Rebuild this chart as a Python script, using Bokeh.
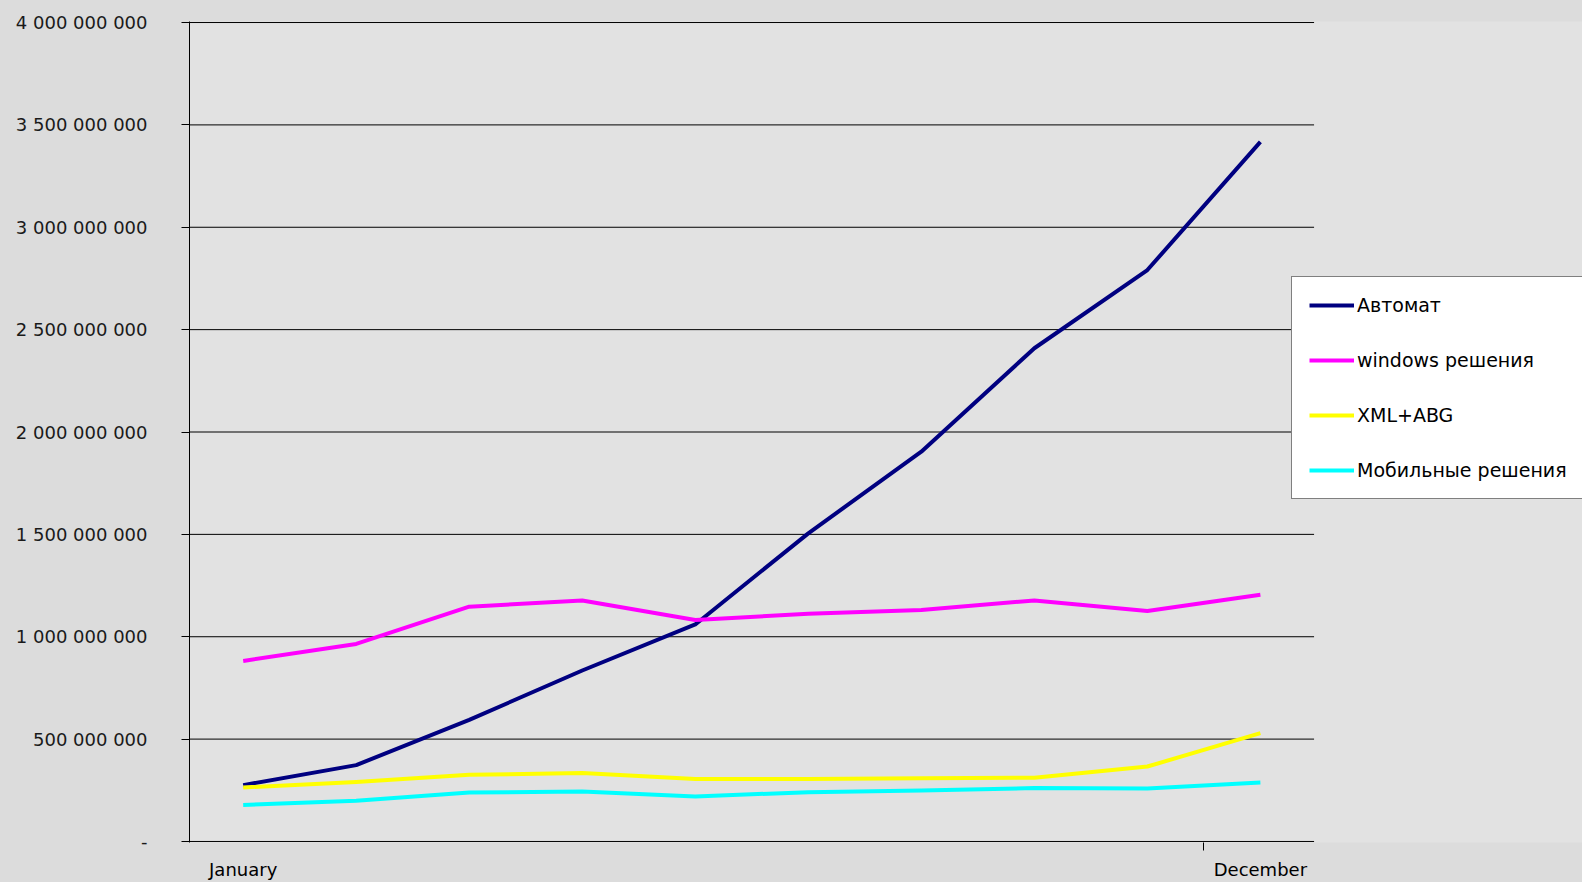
from bokeh.plotting import figure
from bokeh.models import (Range1d, FixedTicker, LinearAxis, Legend, LegendItem,
                          GlobalInlineStyleSheet)
from bokeh.embed import file_html
from bokeh.resources import INLINE

# ---- data ----
x_idx = [0, 1, 2, 3, 4, 5, 6, 7, 8, 9]
x_tick_labels = {0: "January", 9: "December"}
avtomat = [275e6, 373e6, 594e6, 835e6, 1060e6, 1505e6, 1904e6, 2409e6, 2791e6, 3417e6]
windows = [882e6, 965e6, 1147e6, 1177e6, 1082e6, 1112e6, 1131e6, 1177e6, 1126e6, 1205e6]
xml_abg = [264e6, 290e6, 326e6, 334e6, 305e6, 305e6, 309e6, 311e6, 366e6, 529e6]
mobile = [178e6, 199e6, 239e6, 244e6, 220e6, 241e6, 249e6, 261e6, 259e6, 288e6]
series_names = ["Автомат", "windows решения", "XML+ABG", "Мобильные решения"]
series_colors = ["#000080", "#FF00FF", "#FFFF00", "#00FFFF"]
y_ticks = [0, 500e6, 1000e6, 1500e6, 2000e6, 2500e6, 3000e6, 3500e6, 4000e6]
y_tick_labels = ["-", "500 000 000", "1 000 000 000", "1 500 000 000", "2 000 000 000",
                 "2 500 000 000", "3 000 000 000", "3 500 000 000", "4 000 000 000"]
x_boundary_ticks = [-0.5, 8.5]
cat_lo, cat_hi = -0.475, 9.475   # extent of the category area

FONT = "DejaVu Sans"

p = figure(width=1582, height=882, output_backend="svg", toolbar_location=None,
           x_range=Range1d(-0.475, 11.85), y_range=Range1d(-0.005e9, 4.005e9),
           x_axis_type=None, y_axis_type=None,
           min_border_left=189, min_border_right=0, min_border_top=21,
           min_border_bottom=39)
p.outline_line_color = None
p.border_fill_color = "#dcdcdc"
p.background_fill_color = "#e2e2e2"

# y axis
yax = LinearAxis(ticker=FixedTicker(ticks=y_ticks))
yax.major_label_overrides = {float(t): l for t, l in zip(y_ticks, y_tick_labels)}
yax.major_label_overrides.update({int(t): l for t, l in zip(y_ticks, y_tick_labels)})
yax.major_tick_out = 8
yax.major_tick_in = 0
yax.minor_tick_out = 0
yax.minor_tick_in = 0
yax.axis_line_color = "black"
yax.major_tick_line_color = "black"
yax.major_label_standoff = 34
yax.major_label_text_font = FONT
yax.major_label_text_font_size = "18px"
yax.major_label_text_color = "#1a1a1a"
p.add_layout(yax, "left")

# x axis (tick marks at category boundaries)
xax = LinearAxis(ticker=FixedTicker(ticks=x_boundary_ticks))
xax.major_label_overrides = {t: "" for t in x_boundary_ticks}
xax.major_tick_out = 8
xax.major_tick_in = 0
xax.minor_tick_out = 0
xax.axis_line_color = None
xax.major_tick_line_color = "black"
xax.major_label_standoff = 0
xax.major_label_text_font_size = "2px"
p.add_layout(xax, "below")

# x labels axis
xlab = LinearAxis(ticker=FixedTicker(ticks=list(x_tick_labels.keys())))
xlab.major_label_overrides = dict(x_tick_labels)
xlab.axis_line_color = None
xlab.major_tick_line_color = None
xlab.minor_tick_line_color = None
xlab.major_label_standoff = 2
xlab.major_label_text_font = FONT
xlab.major_label_text_font_size = "18px"
xlab.major_label_text_color = "black"
p.add_layout(xlab, "below")

# horizontal gridlines across the category area only
p.xgrid.grid_line_color = None
p.ygrid.grid_line_color = None
p.segment(x0=[cat_lo] * len(y_ticks), x1=[cat_hi] * len(y_ticks), y0=y_ticks, y1=y_ticks,
          line_color="black", line_width=1)

renderers = []
for ys, c in zip([avtomat, windows, xml_abg, mobile], series_colors):
    r = p.line(x_idx, ys, line_color=c, line_width=4, line_join="round")
    renderers.append(r)

legend = Legend(items=[LegendItem(label=n, renderers=[r]) for n, r in zip(series_names, renderers)],
                location=(1102, 343), margin=0, padding=17, spacing=33,
                glyph_width=45, glyph_height=20, label_height=20, label_standoff=3,
                label_text_font=FONT, label_text_font_size="19px",
                label_text_color="black",
                border_line_color="black", border_line_width=1,
                background_fill_color="white", background_fill_alpha=1)
p.add_layout(legend, "center")

p.stylesheets = [GlobalInlineStyleSheet(css="html, body { background-color: #dcdcdc; }")]

open("out.html", "w").write(file_html(p, INLINE))
